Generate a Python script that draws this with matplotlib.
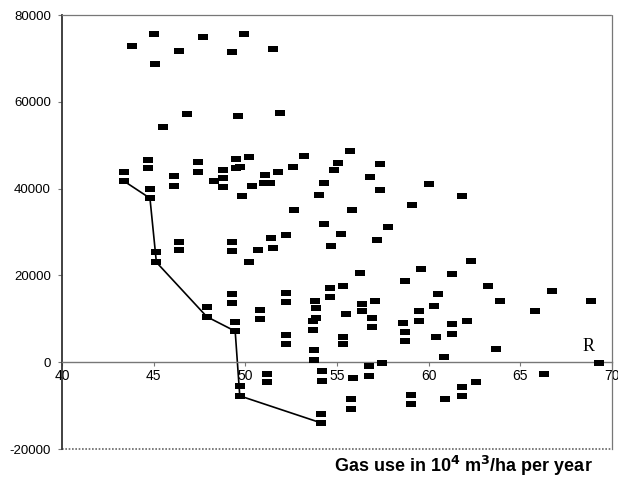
import numpy as np
import matplotlib.pyplot as plt

# farm observations: gas use (10^4 m3/ha/yr) vs. result
gas_use = [
    43.8, 45.0, 45.1, 46.4, 47.7, 49.3, 49.95, 51.5,
    46.8, 45.5, 49.6, 51.9,
    43.4, 43.4, 44.7, 44.7, 44.8, 44.8, 46.1, 46.1, 47.4, 47.4, 48.3,
    48.8, 48.8, 48.8, 49.5, 49.5, 49.7, 50.2, 49.8, 50.35, 51.1, 51.0,
    51.35, 51.8, 52.6, 53.2, 52.65, 54.05, 55.7, 55.05, 54.85, 57.35,
    56.8, 54.3, 57.35, 59.1, 55.8, 60.0, 61.85,
    54.3, 57.8, 55.25, 57.2, 54.7, 45.15, 45.15, 46.4, 46.4, 49.25,
    49.25, 50.2, 50.7, 51.4, 51.5, 52.2,
    56.25, 59.6, 58.7, 62.3, 61.3, 63.25, 66.75, 63.9, 68.85, 65.8,
    60.5, 60.3, 54.6, 54.6, 55.35, 56.35, 56.35, 57.1, 55.5, 56.9,
    56.9, 55.35, 55.35, 58.6, 58.7, 58.7, 59.5, 59.5, 61.3, 61.3,
    62.1, 60.4, 63.7, 60.85, 57.45, 56.75, 56.75, 55.9, 54.2, 54.2,
    69.3, 66.3, 62.6, 61.8, 61.8, 60.9, 59.05, 59.05, 55.75, 55.75,
    54.15, 54.15,
    47.9, 47.9, 49.25, 49.25, 49.45, 49.45, 50.8, 50.8, 52.2, 52.2,
    52.2, 52.2, 53.8, 53.85, 53.85, 53.7, 53.7, 53.75, 53.75, 49.7,
    49.7, 51.2, 51.2,
]
result = [
    72900, 75700, 68800, 71800, 75000, 71400, 75700, 72100,
    57100, 54200, 56800, 57500,
    43950, 41700, 46500, 44700, 39950, 37800, 42900, 40700, 46100, 43950, 41700,
    44330, 42480, 40400, 46950, 44700, 45080, 47330, 38200, 40700, 43240, 41200,
    41200, 43930, 45000, 47550, 35100, 38600, 48700, 46000, 44260, 45730,
    42800, 41420, 39650, 36260, 35100, 41100, 38200,
    31800, 31200, 29660, 28200, 26740, 25300, 23050, 27800, 25900, 27800,
    25650, 23050, 25950, 28600, 26350, 29350,
    20500, 21500, 18650, 23350, 20450, 17600, 16450, 14200, 14200, 11750,
    15750, 12850, 17200, 15050, 17600, 13500, 11750, 14200, 11050, 10300,
    8150, 5900, 4150, 9150, 6950, 4900, 11750, 9600, 8800, 6600,
    9600, 5900, 3050, 1150, -230, -800, -3150, -3540, -2070, -4300,
    -230, -2700, -4600, -5600, -7850, -8550, -7450, -9600, -8530, -10830,
    -11850, -14000,
    12800, 10500, 15800, 13600, 9200, 7150, 12150, 9900, 16050, 13900,
    6200, 4150, 14200, 12500, 10300, 9600, 7400, 2750, 460, -5450,
    -7750, -2750, -4600,
]

# efficient frontier
frontier_x = [43.4, 44.8, 45.15, 47.9, 49.45, 49.7, 54.15]
frontier_y = [41700, 37800, 23050, 10500, 7150, -7750, -14000]

xticks = [40, 45, 50, 55, 60, 65, 70]
yticks = [-20000, 0, 20000, 40000, 60000, 80000]

plt.rcParams['font.family'] = ['Liberation Sans', 'DejaVu Sans']

fig = plt.figure(figsize=(6.18, 4.88), dpi=100)
ax = fig.add_axes([0.1003, 0.0799, 0.8897, 0.8891])

# small horizontal dash marker
dash = [(-1, -0.62), (1, -0.62), (1, 0.62), (-1, 0.62)]
ax.plot(frontier_x, frontier_y, color='black', lw=1.2, zorder=2)
ax.plot(gas_use, result, ls='none', marker=dash, ms=6.8, mew=0,
        color='black', zorder=3)

ax.set_xlim(40, 70)
ax.set_ylim(-20000, 80000)
ax.set_xticks(xticks)
ax.set_yticks(yticks)
ax.set_yticklabels([str(v) for v in yticks], fontsize=9.5)
ax.set_xticklabels([str(v) for v in xticks], fontsize=9.5)

# x axis sits on y = 0, frame drawn dotted
ax.spines['bottom'].set_position(('data', 0))
ax.spines['bottom'].set_color('#777777')
ax.spines['bottom'].set_linewidth(1.0)
ax.spines['left'].set_color('#333333')
ax.spines['left'].set_linewidth(1.3)
for side in ['top', 'right']:
    ax.spines[side].set_linestyle((0, (1, 1)))
    ax.spines[side].set_color('#777777')
    ax.spines[side].set_linewidth(0.9)
ax.axhline(-20000, color='#666666', lw=1.2, ls=(0, (1, 1)), clip_on=False)

ax.tick_params(axis='x', direction='out', length=3, width=0.8,
               colors='#777777', labelcolor='black', pad=2)
ax.tick_params(axis='y', direction='out', length=3, width=0.8,
               colors='#777777', labelcolor='black', pad=5)

ax.text(68.4, 2600, 'R', family='Liberation Serif', fontsize=13)
fig.text(0.75, 0.045, r'Gas use in 10$^{\mathbf{4}}$ m$^{\mathbf{3}}$/ha per year',
         ha='center', va='center', fontsize=13, fontweight='bold')

fig.savefig('out.png', dpi=100)
